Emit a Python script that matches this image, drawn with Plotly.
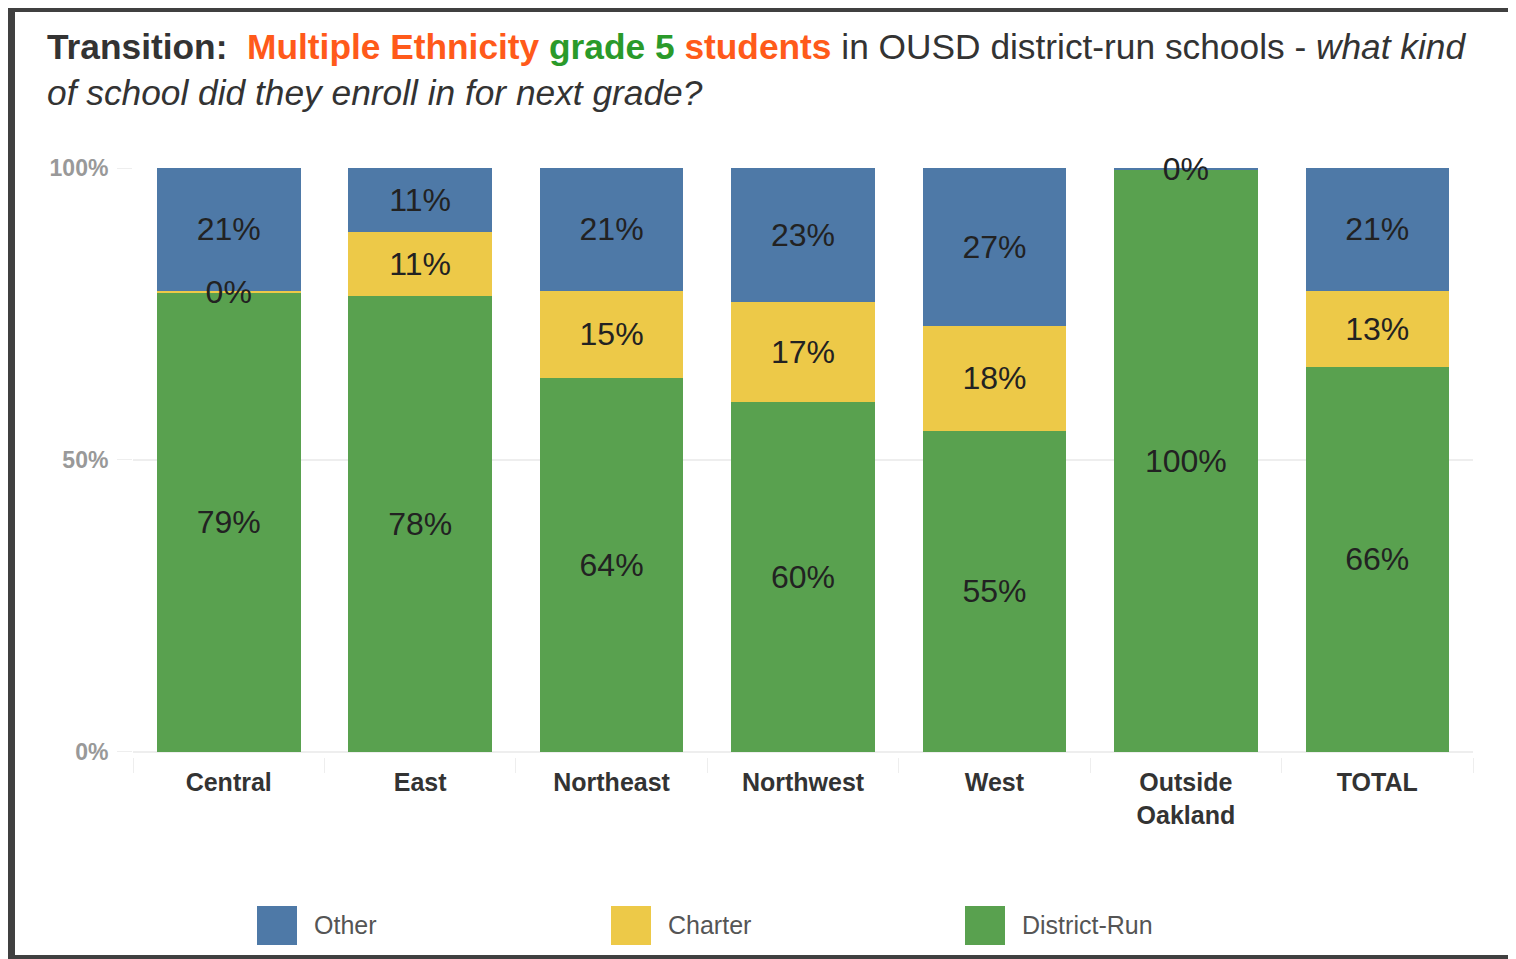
import plotly.graph_objects as go

# %% Data
regions = ["Central", "East", "Northeast", "Northwest", "West", "Outside<br>Oakland", "TOTAL"]
district_run = [78.6, 78, 64, 60, 55, 99.6, 66]
charter = [0.4, 11, 15, 17, 18, 0, 13]
other = [21, 11, 21, 23, 27, 0.4, 21]

y_ticks = [0, 50, 100]
y_tick_labels = ["0%", "50%", "100%"]
legend_names = ["Other", "Charter", "District-Run"]

# Constants
imgW = 1516
imgH = 959
pageOffset = 8  # the page body adds an 8px margin round the figure
colorMap = {"Other": "#4e79a7", "Charter": "#edc948", "District-Run": "#59a14f"}
font = "Liberation Sans, Arial, sans-serif"


def fx(p):
    return (p - pageOffset) / imgW


def fy(p):
    return 1 - (p - pageOffset) / imgH


# %% Bars (charter drawn on top so the thin 0% label is not hidden)
fig = go.Figure()
for name, vals, z in [
    ("District-Run", district_run, 0),
    ("Charter", charter, 1),
    ("Other", other, 0),
]:
    fig.add_trace(
        go.Bar(
            x=regions,
            y=vals,
            name=name,
            marker=dict(color=colorMap[name], line=dict(width=0)),
            texttemplate="%{y:.0f}%",
            textposition="inside",
            insidetextanchor="middle",
            constraintext="none",
            textfont=dict(family=font, size=32, color="#222"),
            cliponaxis=False,
            hoverinfo="skip",
            zorder=z,
        )
    )

fig.update_layout(
    width=imgW,
    height=imgH,
    margin=dict(l=0, r=0, t=0, b=0, autoexpand=False),
    paper_bgcolor="white",
    plot_bgcolor="white",
    barmode="stack",
    bargap=0.25,
    showlegend=False,
    font=dict(family=font),
)
fig.update_xaxes(
    domain=[fx(133), fx(1473)],
    automargin=False,
    tickson="boundaries",
    ticks="outside",
    ticklen=15,
    ticklabelstandoff=3,
    tickcolor="#eeeeee",
    showline=True,
    linecolor="#eeeeee",
    linewidth=2,
    showgrid=False,
    tickfont=dict(family=font, size=25, color="#333", weight="bold"),
)
fig.update_yaxes(
    domain=[fy(756), fy(168)],
    automargin=False,
    range=[-0.7, 100],
    tickvals=y_ticks,
    ticktext=y_tick_labels,
    ticks="outside",
    ticklen=15,
    tickcolor="#eeeeee",
    ticklabelstandoff=4,
    showgrid=True,
    gridcolor="#eeeeee",
    gridwidth=2,
    zeroline=False,
    tickfont=dict(family=font, size=23, color="#999", weight="bold"),
)

# %% Title
title = (
    "<b>Transition:</b>&nbsp;&nbsp;"
    "<span style='color:#ff5a1a'><b>Multiple Ethnicity</b></span> "
    "<span style='color:#2a9a2a'><b>grade 5</b></span> "
    "<span style='color:#ff5a1a'><b>students</b></span> "
    "in OUSD district-run schools - <i>what kind</i><br>"
    "<i>of school did they enroll in for next grade?</i>"
)
fig.add_annotation(
    text=title,
    xref="paper",
    yref="paper",
    x=fx(45),
    y=fy(25),
    xanchor="left",
    yanchor="top",
    align="left",
    showarrow=False,
    font=dict(family=font, size=35.3, color="#333"),
)

# %% Legend drawn by hand (big square swatches)
legend_x = [257, 611, 965]
for name, lx in zip(legend_names, legend_x):
    fig.add_shape(
        type="rect",
        xref="paper",
        yref="paper",
        x0=fx(lx),
        x1=fx(lx + 40),
        y0=fy(945),
        y1=fy(906),
        fillcolor=colorMap[name],
        line=dict(width=0),
    )
    fig.add_annotation(
        text=name,
        xref="paper",
        yref="paper",
        x=fx(lx + 55),
        y=fy(925),
        xanchor="left",
        yanchor="middle",
        showarrow=False,
        font=dict(family=font, size=25, color="#555"),
    )

# %% Dark frame round the screenshot
frame = "#404040"
for x0, x1, y0, y1 in [(0, 1530, 0, 12), (0, 15, 0, 975), (0, 1530, 955, 975)]:
    fig.add_shape(
        type="rect",
        xref="paper",
        yref="paper",
        x0=fx(x0),
        x1=fx(x1),
        y0=fy(y1),
        y1=fy(y0),
        fillcolor=frame,
        line=dict(width=0),
        layer="above",
    )
# white strips outside the frame (top and left of it)
for x0, x1, y0, y1 in [(0, 1530, 0, 5), (0, 7, 0, 975)]:
    fig.add_shape(
        type="rect",
        xref="paper",
        yref="paper",
        x0=fx(x0),
        x1=fx(x1),
        y0=fy(y1),
        y1=fy(y0),
        fillcolor="white",
        line=dict(width=0),
        layer="above",
    )

fig.write_html("out.html")
